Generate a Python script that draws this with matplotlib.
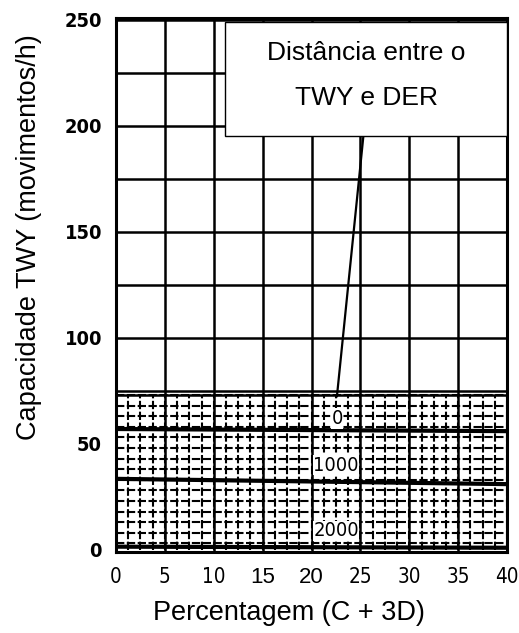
import matplotlib.pyplot as plt
import numpy as np
from matplotlib import font_manager
from matplotlib.patches import Rectangle

# curve values (capacity vs percentage C+3D)
pct = [0, 40]
cap_0 = [57, 56]
cap_1000 = [33.5, 31]
cap_2000 = [1.5, 1]
curve_labels = ["0", "1000", "2000"]
label_pos = [(22.6, 62), (22.5, 40), (22.5, 9)]

leader_x = [25.3, 22.6]
leader_y = [195, 72.5]

x_ticks = [0, 5, 10, 15, 20, 25, 30, 35, 40]
y_ticks = [0, 50, 100, 150, 200, 250]

FINE_TOP = 73

# narrow face for the scanned digits, if the system has one
fonts = font_manager.fontManager.ttflist
names = {f.name for f in fonts}
if "Liberation Sans Narrow" in names:
    NARROW = dict(family="Liberation Sans Narrow")
    NARROW_SCALE = 1.0
elif any(f.name == "DejaVu Sans" and f.stretch in ("condensed", 400, "semi-condensed") for f in fonts):
    NARROW = dict(family="DejaVu Sans", stretch="condensed")
    NARROW_SCALE = 0.9
else:
    NARROW = dict(family="Liberation Sans")
    NARROW_SCALE = 0.85

plt.rcParams["font.family"] = ["Liberation Sans", "DejaVu Sans"]

fig = plt.figure(figsize=(5.19, 6.33), dpi=100)
ax = fig.add_axes([0.2235, 0.128, 0.7535, 0.844])
ax.set_xlim(0, 40)
ax.set_ylim(-1, 251)

# fine grid in the lower band
for xv in np.arange(0, 40.01, 1.25):
    ax.plot([xv, xv], [0, FINE_TOP], color="black", lw=1.5, ls=(0, (4, 1.2)), zorder=1)
for yv in np.arange(3, FINE_TOP + 0.1, 5):
    ax.plot([0, 40], [yv, yv], color="black", lw=1.5, ls=(0, (4, 1.2)), zorder=1)
ax.plot([0, 40], [FINE_TOP, FINE_TOP], color="black", lw=1.8, zorder=1)

# coarse grid
for xv in x_ticks:
    ax.plot([xv, xv], [0, 250], color="black", lw=1.8, zorder=1)
for yv in np.arange(75, 251, 25):
    ax.plot([0, 40], [yv, yv], color="black", lw=1.8, zorder=1)

# curves
for ys in (cap_0, cap_1000, cap_2000):
    ax.plot(pct, ys, color="black", lw=3, zorder=3)

for txt, (lx, ly) in zip(curve_labels, label_pos):
    ax.text(lx, ly, txt, ha="center", va="center", fontsize=16 * NARROW_SCALE, **NARROW,
            bbox=dict(facecolor="white", edgecolor="none", pad=0.5), zorder=4)

ax.plot(leader_x, leader_y, color="black", lw=1.6, zorder=3)

# title box
ax.add_patch(Rectangle((11.15, 195), 28.85, 54, facecolor="white",
                       edgecolor="black", lw=1, zorder=5))
ax.text(25.6, 231, "Distância entre o", ha="center", va="baseline", fontsize=19, zorder=6)
ax.text(25.6, 210, "TWY e DER", ha="center", va="baseline", fontsize=19, zorder=6)

ax.set_xticks(x_ticks)
ax.set_yticks(y_ticks)
ax.tick_params(length=0)
ax.tick_params(axis="x", pad=11)
ax.tick_params(axis="y", pad=10)
for lbl in ax.get_xticklabels():
    if lbl.get_text() in ("15", "20"):
        lbl.set_family("Liberation Sans")
        lbl.set_fontsize(16)
    else:
        lbl.set_fontproperties(font_manager.FontProperties(size=16.5 * NARROW_SCALE, **NARROW))
for lbl in ax.get_yticklabels():
    lbl.set_fontproperties(font_manager.FontProperties(size=16 * NARROW_SCALE, weight="semibold", **NARROW))
for sp in ax.spines.values():
    sp.set_linewidth(2.2)

fig.text(0.557, 0.0205, "Percentagem (C + 3D)", ha="center", va="baseline", fontsize=19.5)
fig.text(0.055, 0.626, "Capacidade TWY (movimentos/h)", ha="center", va="center",
         rotation=90, fontsize=19.5)

fig.savefig("out.png", dpi=100)
